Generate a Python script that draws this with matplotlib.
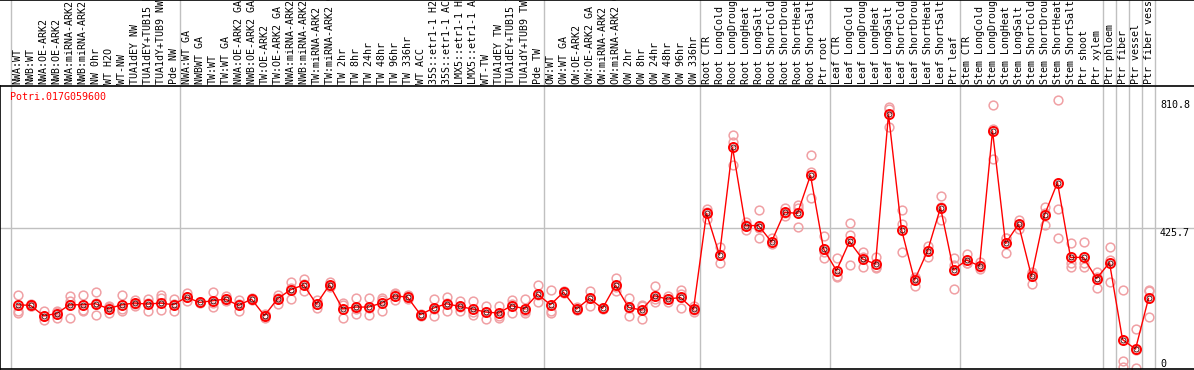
import matplotlib
matplotlib.use("Agg")
import matplotlib.pyplot as plt
import matplotlib.transforms as mtransforms
import numpy as np

# sample groups (header labels)
grp_nw = ["NWA:WT", "NWB:WT", "NWA:OE-ARK2", "NWB:OE-ARK2", "NWA:miRNA-ARK2", "NWB:miRNA-ARK2",
          "NW 0hr", "WT H2O", "WT-NW", "TUA1dEY NW", "TUA1dEY+TUB15 NW", "TUA1dY+TUB9 NW", "Pde NW"]
grp_tw = ["NWA:WT GA", "NWBWT GA", "TW:WT", "TW:WT GA", "NWA:OE-ARK2 GA", "NWB:OE-ARK2 GA",
          "TW:OE-ARK2", "TW:OE-ARK2 GA", "NWA:miRNA-ARK2 GA", "NWB:miRNA-ARK2 GA", "TW:miRNA-ARK2",
          "TW:miRNA-ARK2 GA", "TW 2hr", "TW 8hr", "TW 24hr", "TW 48hr", "TW 96hr", "TW 336hr",
          "WT ACC", "35S::etr1-1 H2O", "35S::etr1-1 ACC", "LMX5::etr1-1 H2O", "LMX5::etr1-1 ACC",
          "WT-TW", "TUA1dEY TW", "TUA1dEY+TUB15 TW", "TUA1dY+TUB9 TW", "Pde TW"]
grp_ow = ["OW:WT", "OW:WT GA", "OW:OE-ARK2", "OW:OE-ARK2 GA", "OW:miRNA-ARK2", "OW:miRNA-ARK2 GA",
          "OW 2hr", "OW 8hr", "OW 24hr", "OW 48hr", "OW 96hr", "OW 336hr"]
grp_root = ["Root CTR", "Root LongCold", "Root LongDrought", "Root LongHeat", "Root LongSalt",
            "Root ShortCold", "Root ShortDrought", "Root ShortHeat", "Root ShortSalt", "Ptr root"]
grp_leaf = ["Leaf CTR", "Leaf LongCold", "Leaf LongDrought", "Leaf LongHeat", "Leaf LongSalt",
            "Leaf ShortCold", "Leaf ShortDrought", "Leaf ShortHeat", "Leaf ShortSalt", "Ptr leaf"]
grp_stem = ["Stem CTR", "Stem LongCold", "Stem LongDrought", "Stem LongHeat", "Stem LongSalt",
            "Stem ShortCold", "Stem ShortDrought", "Stem ShortHeat", "Stem ShortSalt",
            "Ptr shoot", "Ptr xylem"]
grp_ptr = [["Ptr phloem"], ["Ptr fiber"], ["Ptr vessel"], ["Ptr fiber vessel"]]

groups = [grp_nw, grp_tw, grp_ow, grp_root, grp_leaf, grp_stem] + grp_ptr
labels = [s for g in groups for s in g]

gene_id = "Potri.017G059600"
mid_value = 425.7
max_value = 810.8

means = [194, 192, 161, 167, 194, 194, 197, 182, 194, 199, 196, 199, 194,
         217, 201, 206, 211, 192, 211, 161, 212, 239, 254, 196, 254, 182, 187, 187, 199,
         221, 217, 164, 184, 197, 189, 181, 172, 169, 191, 182, 226,
         194, 232, 181, 213, 183, 253, 186, 178, 221, 211, 216, 180,
         470, 344, 669, 433, 433, 384, 473, 470, 585, 363,
         297, 385, 332, 317, 769, 421, 268, 356, 487, 299,
         329, 311, 719, 379, 437, 280, 465, 563, 337, 337, 273,
         321, 89, 60, 213]

reps = [[224, 175, 170], [197, 189, 190], [176, 148, 160], [172, 153, 176], [221, 204, 154],
        [224, 179, 176], [231, 199, 163], [189, 169, 188], [224, 176, 182], [209, 191, 197],
        [211, 176, 200], [222, 214, 179], [211, 174, 197],
        [229, 204, 218], [199, 203, 201], [231, 187, 200], [219, 204, 210], [207, 174, 195],
        [214, 211, 208], [164, 154, 165], [224, 197, 215], [262, 211, 244], [272, 234, 256],
        [184, 196, 208], [262, 249, 251], [199, 154, 193], [214, 166, 181], [214, 164, 183],
        [209, 174, 214], [229, 209, 225], [224, 217, 210], [167, 164, 161], [211, 161, 180],
        [217, 176, 198], [206, 174, 187], [206, 164, 173], [191, 152, 173], [191, 161, 155],
        [209, 169, 195], [211, 174, 169], [254, 201, 223],
        [239, 169, 174], [234, 230, 232], [187, 178, 178], [235, 191, 213], [183, 185, 181],
        [275, 235, 249], [213, 161, 184], [190, 150, 194], [250, 210, 203], [220, 203, 210],
        [240, 183, 225], [190, 171, 179],
        [482, 475, 453], [369, 319, 344], [706, 686, 615], [444, 419, 436], [480, 394, 425],
        [394, 376, 382], [485, 462, 472], [495, 429, 486], [646, 515, 594], [401, 334, 354],
        [334, 280, 277], [442, 404, 313], [352, 307, 337], [339, 304, 308], [790, 786, 731],
        [480, 437, 352], [278, 250, 276], [372, 339, 357], [522, 449, 490], [334, 314, 243],
        [347, 319, 321], [324, 301, 308], [797, 726, 633], [394, 349, 394], [451, 424, 436],
        [294, 258, 288], [490, 434, 471], [810.8, 482, 397], [379, 321, 309], [382, 321, 309],
        [294, 246, 279],
        [367, 329, 262], [240, 24, 5], [120, 58, 2], [240, 236, 158]]

W, H = 1194, 370
fig = plt.figure(figsize=(W / 100, H / 100), dpi=100)
mono = "DejaVu Sans Mono"
fs = 7.2

# pixel layout
x_first = 17.5   # centre of first sample, px
step = 13.0
xlim = ((0 - x_first) / step, (W - x_first) / step)

hdr_bot = 85
plot_top, plot_bot = 86, 369

ax_h = fig.add_axes([0, 1 - hdr_bot / H, 1, hdr_bot / H])
ax = fig.add_axes([0, 1 - plot_bot / H, 1, (plot_bot - plot_top) / H])

x = np.arange(len(labels))
bounds = np.cumsum([0] + [len(g) for g in groups]) - 0.5

for a in (ax, ax_h):
    a.set_xlim(*xlim)
    a.set_xticks([])
    a.set_yticks([])
    for b in bounds:
        a.axvline(b, color="#c0c0c0", lw=1, zorder=0)

# header
ax_h.set_ylim(0, 1)
for s in ["left", "right", "bottom"]:
    ax_h.spines[s].set_visible(False)
ax_h.spines["top"].set_linewidth(1.2)
for i, lab in enumerate(labels):
    ax_h.text(i, 1.5 / hdr_bot, lab, rotation=90, ha="center", va="bottom",
              family=mono, fontsize=fs, color="black", clip_on=True)

# plot area
ax.set_ylim(0, 2 * mid_value * (plot_bot - plot_top) / (plot_bot - plot_top - 1))
ax.spines["right"].set_visible(False)
for s in ["left", "bottom", "top"]:
    ax.spines[s].set_linewidth(1.2)
ax.axhline(mid_value, color="#c0c0c0", lw=1, zorder=0)

for i, r in enumerate(reps):
    ax.plot([i] * len(r), r, "o", ms=6.3, mfc="none", mec="#f0a0a4", mew=1.1, zorder=2)

ax.plot(x, means, "-", color="#ff0000", lw=1, zorder=3)
ax.plot(x, means, "o", ms=6.5, mfc="none", mec="#ff0000", mew=1.4, zorder=4)
ax.plot(x, means, "o", ms=3.6, mfc="none", mec="#400000", mew=0.6, zorder=5)

ax.text(10 / W, 1 - 11 / (plot_bot - plot_top), gene_id, transform=ax.transAxes,
        family=mono, fontsize=fs, color="red", va="center", ha="left")

tr = mtransforms.blended_transform_factory(ax.transAxes, ax.transData)
xl = 1160 / W
ax.text(xl, max_value, f"{max_value:g}", transform=tr, family=mono, fontsize=fs, va="top")
ax.text(xl, mid_value, f"{mid_value:g}", transform=tr, family=mono, fontsize=fs, va="top")
ax.text(xl, 0, "0", transform=tr, family=mono, fontsize=fs, va="bottom")

fig.savefig("out.png", dpi=100)
